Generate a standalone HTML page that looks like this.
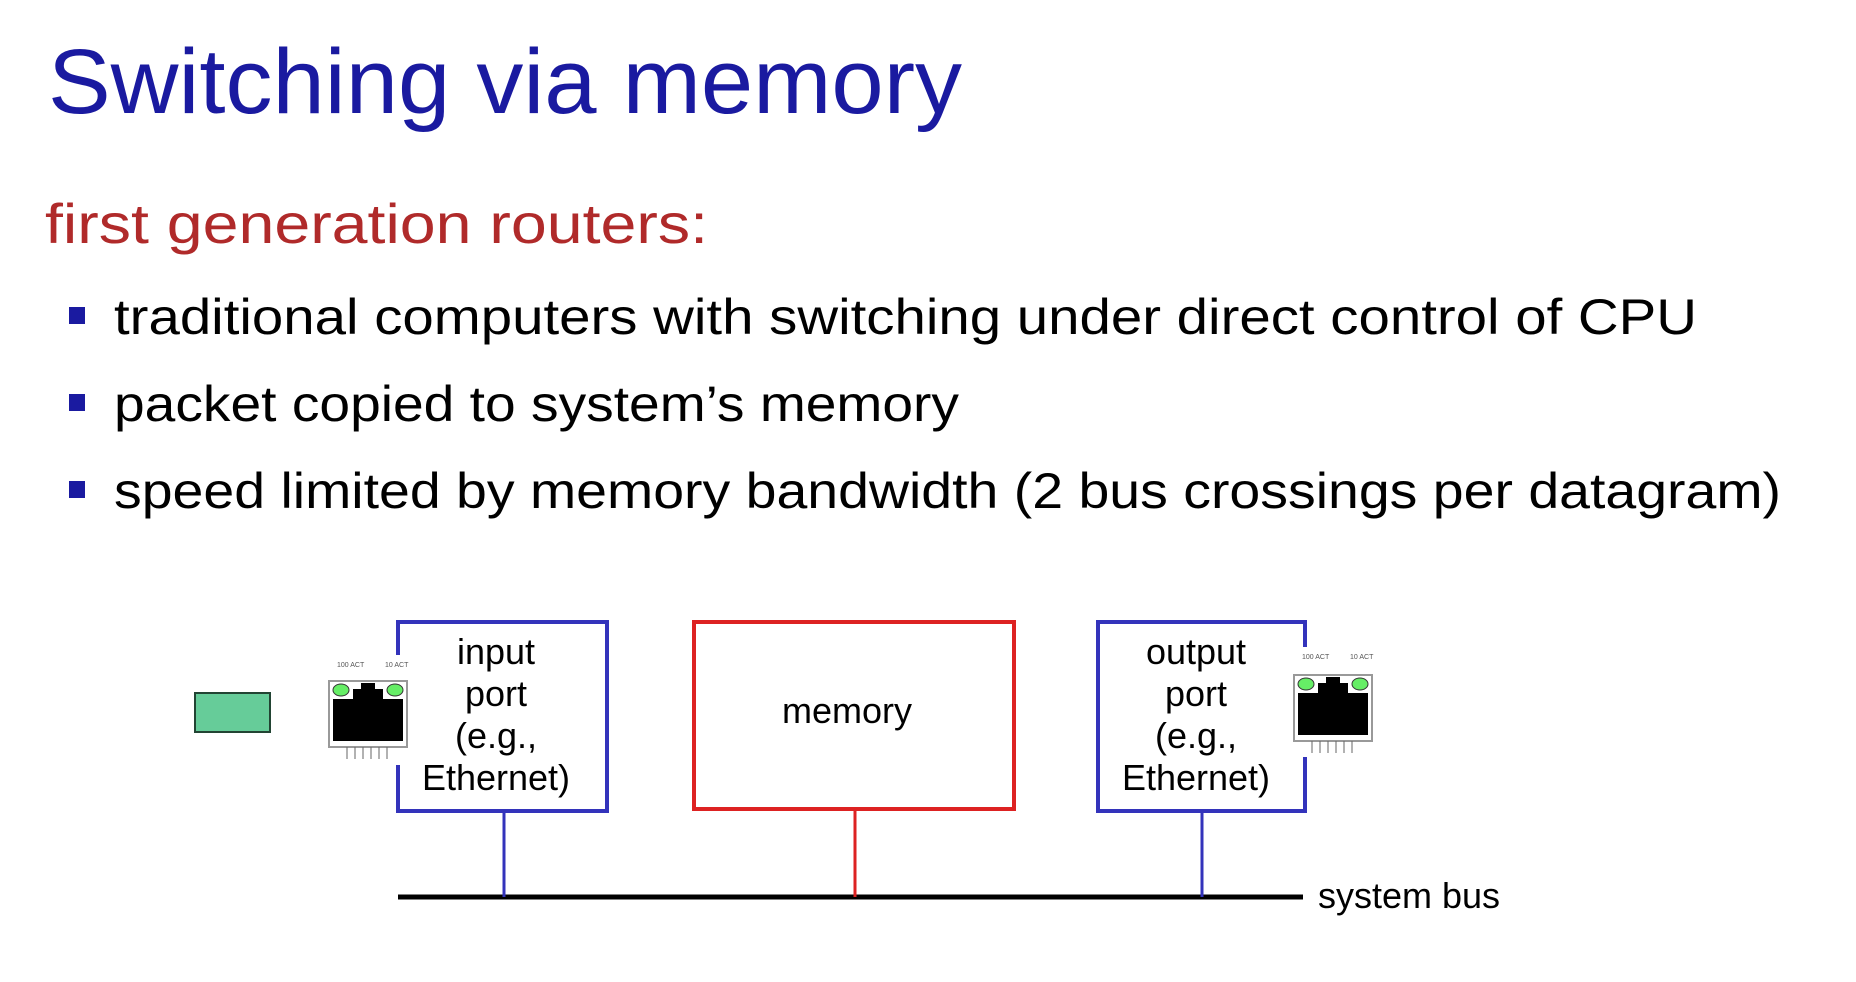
<!DOCTYPE html>
<html><head><meta charset="utf-8"><style>
html,body{margin:0;padding:0;background:#fff;}
body{width:1856px;height:982px;overflow:hidden;position:relative;font-family:"Liberation Sans",sans-serif;}
svg{position:absolute;left:0;top:0;}
</style></head><body>
<svg width="1856" height="982" viewBox="0 0 1856 982" xmlns="http://www.w3.org/2000/svg">
<text x="48" y="113" font-family="Liberation Sans, sans-serif" font-size="92" fill="#1a1aa0" textLength="914" lengthAdjust="spacingAndGlyphs">Switching via memory</text>
<text x="45" y="243" font-family="Liberation Sans, sans-serif" font-size="56" fill="#b02a2a" textLength="663" lengthAdjust="spacingAndGlyphs">first generation routers:</text>
<g fill="#1a1aa0"><rect x="69" y="307" width="16" height="17"/><rect x="69" y="394" width="16" height="17"/><rect x="69" y="481" width="16" height="17"/></g>
<g font-family="Liberation Sans, sans-serif" font-size="50" fill="#000">
<text x="114" y="334" textLength="1583" lengthAdjust="spacingAndGlyphs">traditional computers with switching under direct control of CPU</text>
<text x="114" y="421" textLength="845" lengthAdjust="spacingAndGlyphs">packet copied to system’s memory</text>
<text x="114" y="508" textLength="1667" lengthAdjust="spacingAndGlyphs">speed limited by memory bandwidth (2 bus crossings per datagram)</text>
</g>
<g transform="translate(-4,-5)">
<rect x="199" y="698" width="75" height="39" fill="#66cc99" stroke="#224433" stroke-width="2"/>
<line x1="402" y1="902" x2="1307" y2="902" stroke="#000" stroke-width="5"/>
<g stroke="#3333bb" stroke-width="3"><line x1="508" y1="817" x2="508" y2="902"/><line x1="1206" y1="817" x2="1206" y2="902"/></g>
<line x1="859" y1="815" x2="859" y2="902" stroke="#dd2222" stroke-width="3"/>
<rect x="402" y="627" width="209" height="189" fill="none" stroke="#3333bb" stroke-width="4"/>
<rect x="698" y="627" width="320" height="187" fill="none" stroke="#dd2222" stroke-width="4"/>
<rect x="1102" y="627" width="207" height="189" fill="none" stroke="#3333bb" stroke-width="4"/>
<g font-family="Liberation Sans, sans-serif" font-size="36" fill="#000" text-anchor="middle">
<text x="500" y="669">input</text><text x="500" y="711">port</text><text x="500" y="753">(e.g.,</text><text x="500" y="795">Ethernet)</text>
<text x="851" y="728">memory</text>
<text x="1200" y="669">output</text><text x="1200" y="711">port</text><text x="1200" y="753">(e.g.,</text><text x="1200" y="795">Ethernet)</text>
<text x="1417" y="913" text-anchor="start" transform="translate(-95,0)">system bus</text>
</g>
<g transform="translate(331,660)">
<rect x="0" y="0" width="82" height="110" fill="#fff"/>
<rect x="2" y="26" width="78" height="66" fill="#fff" stroke="#999" stroke-width="2"/>
<path d="M6 44 H26 V34 H34 V28 H48 V34 H56 V44 H76 V86 H6 Z" fill="#000"/>
<ellipse cx="14" cy="35" rx="8" ry="6" fill="#66ee66" stroke="#333"/>
<ellipse cx="68" cy="35" rx="8" ry="6" fill="#66ee66" stroke="#333"/>
<g stroke="#666" stroke-width="1"><line x1="20" y1="92" x2="20" y2="104"/><line x1="28" y1="92" x2="28" y2="104"/><line x1="36" y1="92" x2="36" y2="104"/><line x1="44" y1="92" x2="44" y2="104"/><line x1="52" y1="92" x2="52" y2="104"/><line x1="60" y1="92" x2="60" y2="104"/></g>
<text x="10" y="12" font-size="7" fill="#555" font-family="Liberation Sans, sans-serif">100 ACT</text>
<text x="58" y="12" font-size="7" fill="#555" font-family="Liberation Sans, sans-serif">10 ACT</text>
</g>
<g transform="translate(1296,652)">
<rect x="0" y="0" width="82" height="110" fill="#fff"/>
<rect x="2" y="28" width="78" height="66" fill="#fff" stroke="#999" stroke-width="2"/>
<path d="M6 46 H26 V36 H34 V30 H48 V36 H56 V46 H76 V88 H6 Z" fill="#000"/>
<ellipse cx="14" cy="37" rx="8" ry="6" fill="#66ee66" stroke="#333"/>
<ellipse cx="68" cy="37" rx="8" ry="6" fill="#66ee66" stroke="#333"/>
<g stroke="#666" stroke-width="1"><line x1="20" y1="94" x2="20" y2="106"/><line x1="28" y1="94" x2="28" y2="106"/><line x1="36" y1="94" x2="36" y2="106"/><line x1="44" y1="94" x2="44" y2="106"/><line x1="52" y1="94" x2="52" y2="106"/><line x1="60" y1="94" x2="60" y2="106"/></g>
<text x="10" y="12" font-size="7" fill="#555" font-family="Liberation Sans, sans-serif">100 ACT</text>
<text x="58" y="12" font-size="7" fill="#555" font-family="Liberation Sans, sans-serif">10 ACT</text>
</g>
</g>
</svg>
</body></html>
